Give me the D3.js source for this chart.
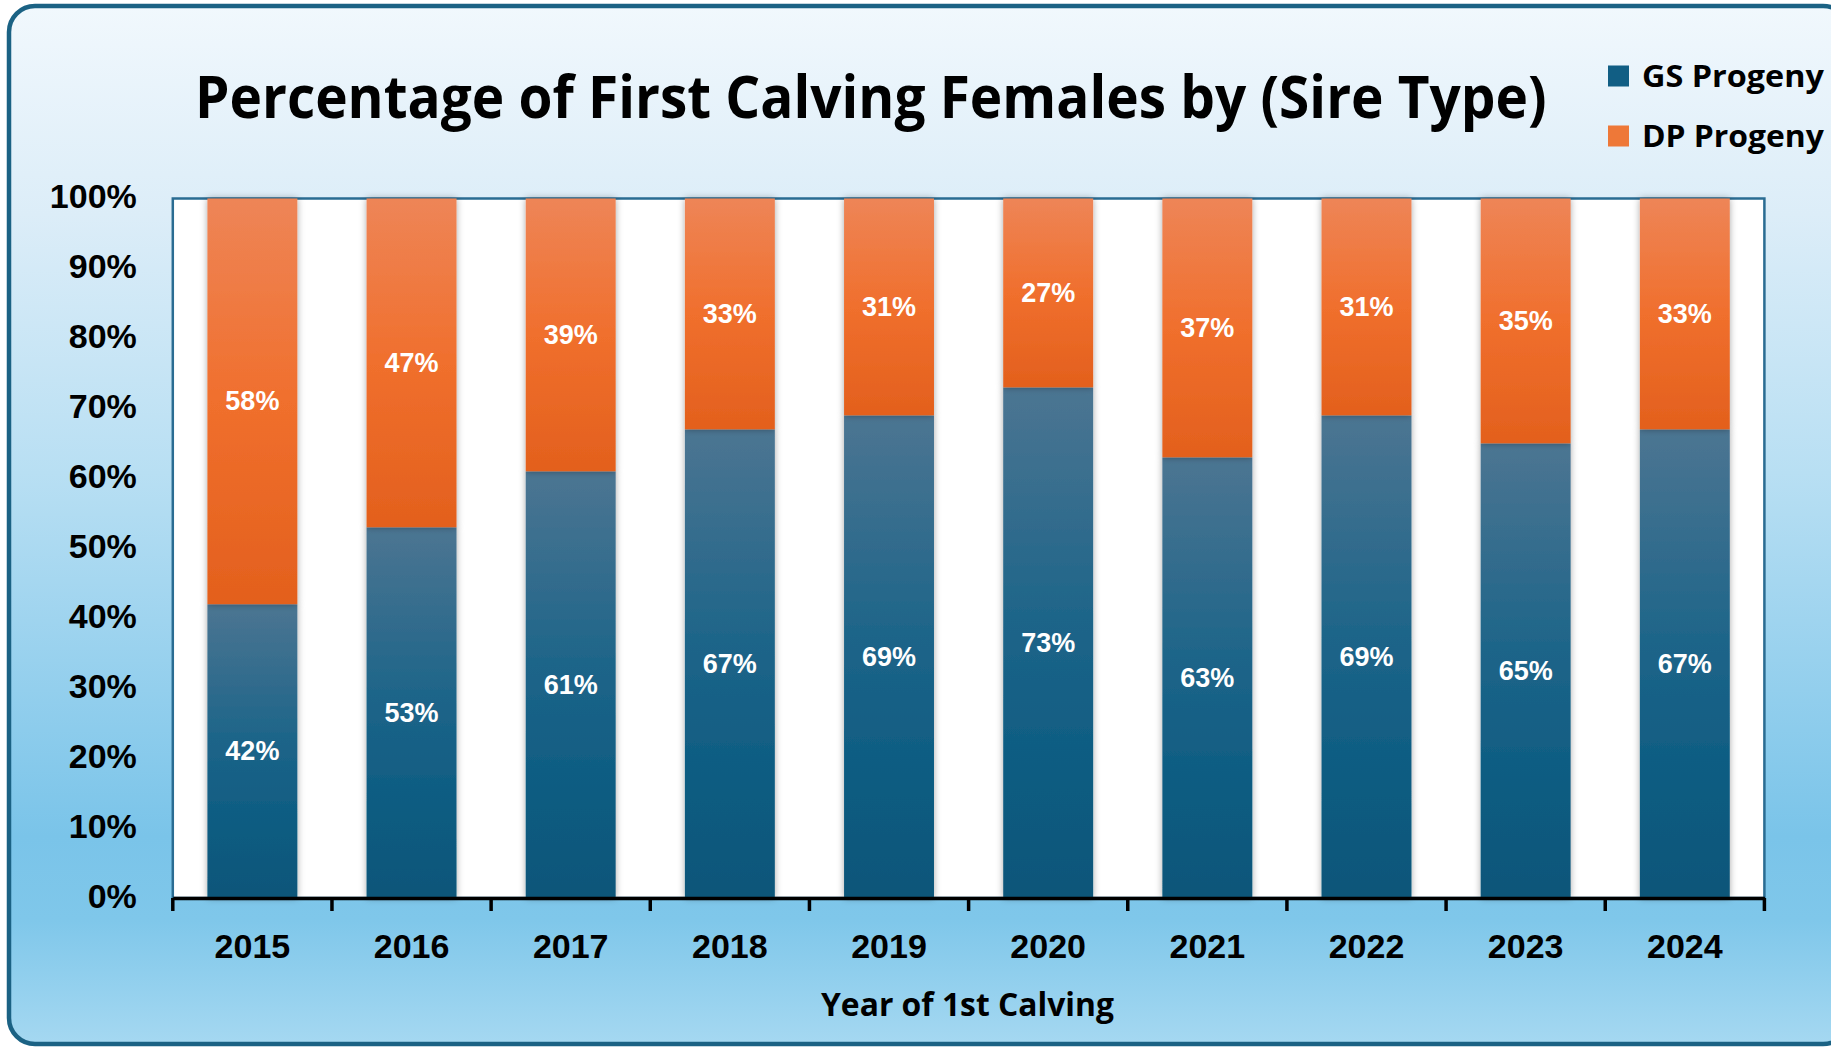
<!DOCTYPE html>
<html><head><meta charset="utf-8">
<script src="https://cdn.jsdelivr.net/npm/d3@7"></script>
<style>html,body{margin:0;padding:0;background:#fff;overflow:hidden}</style>
</head><body>
<svg id="c" width="1831" height="1048"></svg>
<script>
const years = ["2015","2016","2017","2018","2019","2020","2021","2022","2023","2024"];
const gsValues = [42,53,61,67,69,73,63,69,65,67];
const dpValues = [58,47,39,33,31,27,37,31,35,33];
const yTicks = [0,10,20,30,40,50,60,70,80,90,100];
const seriesNames = ["GS Progeny","DP Progeny"];
const titleText = "Percentage of First Calving Females by (Sire Type)";
const xTitleText = "Year of 1st Calving";

const W = 1831, H = 1048;
const m = {left:172.8, right:1764.4, top:198.5, bottom:898};
const svg = d3.select("#c");
const defs = svg.append("defs");

const bg = defs.append("linearGradient").attr("id","bg").attr("x1",0).attr("y1",0).attr("x2",0).attr("y2",1);
[[0,"#F1F8FD"],[0.2,"#DCEDF8"],[0.45,"#B8DFF3"],[0.8,"#7AC4E9"],[0.88,"#7FC7EA"],[1,"#A5D8F1"]]
  .forEach(s=>bg.append("stop").attr("offset",s[0]).attr("stop-color",s[1]));
const gsG = defs.append("linearGradient").attr("id","gsG").attr("x1",0).attr("y1",0).attr("x2",0).attr("y2",1);
[[0,"#4C7592"],[0.45,"#1E6589"],[0.7,"#105D83"],[1,"#0A5679"]].forEach(s=>gsG.append("stop").attr("offset",s[0]).attr("stop-color",s[1]));
const dpG = defs.append("linearGradient").attr("id","dpG").attr("x1",0).attr("y1",0).attr("x2",0).attr("y2",1);
[[0,"#EE8557"],[0.5,"#F06F2D"],[1,"#E3601D"]].forEach(s=>dpG.append("stop").attr("offset",s[0]).attr("stop-color",s[1]));
const sh = defs.append("filter").attr("id","sh").attr("x","-20%").attr("y","-5%").attr("width","140%").attr("height","110%");
sh.append("feDropShadow").attr("dx",0).attr("dy",0).attr("stdDeviation",3.5).attr("flood-color","#000").attr("flood-opacity",0.35);

svg.append("rect").attr("x",0).attr("y",0).attr("width",W).attr("height",H).attr("fill","#ffffff");
svg.append("rect").attr("x",9).attr("y",6).attr("width",1840).attr("height",1038).attr("rx",26)
  .attr("fill","url(#bg)").attr("stroke","#1B6284").attr("stroke-width",4.5);

svg.append("rect").attr("x",m.left).attr("y",m.top).attr("width",m.right-m.left).attr("height",m.bottom-m.top)
  .attr("fill","#ffffff").attr("stroke","#2A6C92").attr("stroke-width",2.5);

const x = d3.scaleBand().domain(years).range([m.left,m.right]).paddingInner(0.435).paddingOuter(0.2175);
const y = d3.scaleLinear().domain([0,100]).range([m.bottom,m.top]);

const data = years.map((yr,i)=>({year:yr, GS:gsValues[i], DP:dpValues[i]}));
const stack = d3.stack().keys(["GS","DP"])(data);
const fills = {GS:"url(#gsG)", DP:"url(#dpG)"};

const barsG = svg.append("g");
stack.forEach(layer=>{
  barsG.selectAll(null).data(layer).enter().append("rect")
    .attr("x",d=>x(d.data.year)).attr("width",x.bandwidth())
    .attr("y",d=>y(d[1])).attr("height",d=>y(d[0])-y(d[1]))
    .attr("fill",fills[layer.key]).attr("filter","url(#sh)");
});
stack.forEach(layer=>{
  svg.append("g").selectAll("text").data(layer).enter().append("text")
    .attr("x",d=>x(d.data.year)+x.bandwidth()/2).attr("y",d=>y((d[0]+d[1])/2))
    .attr("text-anchor","middle").attr("dominant-baseline","central")
    .attr("font-family","'Liberation Sans',Arial,sans-serif").attr("font-weight","bold")
    .attr("font-size",27).attr("fill","#ffffff")
    .text(d=>(d[1]-d[0])+"%");
});

const yAx = svg.append("g").attr("transform",`translate(${m.left},0)`)
  .call(d3.axisLeft(y).tickValues(yTicks).tickFormat(d=>d+"%").tickSize(0).tickPadding(36));
yAx.select(".domain").remove();
yAx.selectAll("text").attr("font-family","'Liberation Sans',Arial,sans-serif").attr("font-weight","bold")
  .attr("font-size",34).attr("fill","#000").attr("dy","0.27em");

const xAx = svg.append("g").attr("transform",`translate(0,${m.bottom})`)
  .call(d3.axisBottom(x).tickSize(0).tickPadding(36));
xAx.select(".domain").attr("stroke","#000").attr("stroke-width",3.5);
xAx.selectAll("text").attr("font-family","'Liberation Sans',Arial,sans-serif").attr("font-weight","bold")
  .attr("font-size",34).attr("fill","#000").attr("dy","0.71em");
const bounds = years.map(yr=>x(yr)-x.step()*x.paddingInner()/2).concat([m.right]);
bounds[0]=m.left;
xAx.selectAll("line.tk").data(bounds).enter().append("line").attr("class","tk")
  .attr("x1",d=>d).attr("x2",d=>d).attr("y1",0).attr("y2",13)
  .attr("stroke","#000").attr("stroke-width",3.5);

// condensed text helper: scale horizontally to target width
const titleFont = "'Open Sans','Noto Sans',sans-serif";
function fitText(str, x0, yb, size, target){
  const g = svg.append("g");
  const t = g.append("text").attr("x",0).attr("y",0).attr("font-family",titleFont).attr("font-weight",700)
    .attr("font-size",size).attr("fill","#000").text(str);
  const w = t.node().getComputedTextLength();
  g.attr("transform",`translate(${x0},${yb}) scale(${target/w},1)`);
  return g;
}
fitText(titleText, 195, 118, 60, 1352);
fitText(xTitleText, 821, 1016, 32, 293);

const leg = svg.append("g");
seriesNames.forEach((n,i)=>{
  const cy = 76 + i*60;
  leg.append("rect").attr("x",1608).attr("y",cy-10.5).attr("width",21).attr("height",21).attr("fill",i===0?"#115E84":"#EE7838");
  fitText(n, 1642, cy+11, 31, 182);
});
</script>
</body></html>
